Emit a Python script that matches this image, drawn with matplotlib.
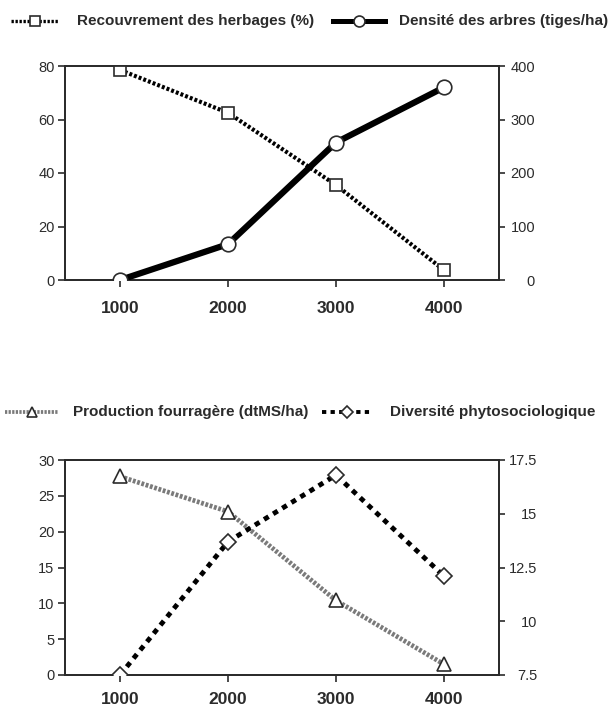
import matplotlib
matplotlib.use("Agg")
import matplotlib.pyplot as plt
from matplotlib.lines import Line2D

# altitude classes (x axis)
altitudes = [1000, 2000, 3000, 4000]
xtick_labels = ["1000", "2000", "3000", "4000"]

# top chart
recouvrement = [78.5, 62.5, 35.5, 3.7]      # % (left axis)
densite = [0, 67, 257, 360]                 # tiges/ha (right axis)

# bottom chart
production = [27.7, 22.8, 10.4, 1.5]        # dtMS/ha (left axis)
diversite = [7.5, 13.7, 16.8, 12.1]         # right axis

top_left_ticks = [0, 20, 40, 60, 80]
top_right_ticks = [0, 100, 200, 300, 400]
bot_left_ticks = [0, 5, 10, 15, 20, 25, 30]
bot_right_ticks = [7.5, 10, 12.5, 15, 17.5]
bot_right_labels = ["7.5", "10", "12.5", "15", "17.5"]

ink = "#2b2b2b"
plt.rcParams["font.family"] = ["Liberation Sans", "DejaVu Sans"]

W, H = 611, 709
fig = plt.figure(figsize=(W / 100, H / 100), dpi=100)

# line styles for each series
st_rec = dict(color="black", lw=3, ls=(0, (0.7, 0.5)), marker="s", ms=9,
              mfc="white", mec=ink, mew=1.2)
st_den = dict(color="black", lw=4.5, ls="-", marker="o", ms=10.5,
              mfc="white", mec=ink, mew=1.2)
st_pro = dict(color="#7a7a7a", lw=3.4, ls=(0, (0.6, 0.35)), marker="^", ms=10,
              mfc="white", mec=ink, mew=1.2)
st_div = dict(color="black", lw=3.5, ls=(0, (1.1, 1.1)), marker="D", ms=8,
              mfc="white", mec=ink, mew=1.2)


def style_axes(ax, ax2, lticks, rticks, rlabels, rpad, xpad):
    ax.set_xlim(490, 4510)
    ax.set_xticks(altitudes)
    ax.set_xticklabels(xtick_labels, fontweight="bold", fontsize=12.5, color=ink)
    ax.tick_params(axis="x", direction="out", length=5, width=1.2, pad=xpad, color=ink)
    ax.set_yticks(lticks)
    ax.tick_params(axis="y", direction="out", length=5, width=1.2, pad=2.5,
                   labelsize=10.5, labelcolor=ink, color=ink)
    ax2.set_yticks(rticks)
    ax2.set_yticklabels(rlabels)
    ax2.tick_params(axis="y", direction="out", length=4, width=1.2, pad=rpad,
                    labelsize=10.5, labelcolor=ink, color=ink)
    for lab in ax2.get_yticklabels():
        lab.set_horizontalalignment("right")
    for a in (ax, ax2):
        for s in a.spines.values():
            s.set_color(ink)
            s.set_linewidth(1.3)


def legend_item(x0, x1, y, style, label, tx):
    # legend key drawn in pixel positions, then its label
    st = dict(style)
    marker = st.pop("marker")
    ms = st.pop("ms") * 0.75
    mfc, mec, mew = st.pop("mfc"), st.pop("mec"), st.pop("mew")
    st["lw"] = st["lw"] * 0.8
    fy = 1 - y / H
    fig.add_artist(Line2D([x0 / W, x1 / W], [fy, fy], transform=fig.transFigure, **st))
    fig.add_artist(Line2D([(x0 + x1) / 2 / W], [fy], transform=fig.transFigure,
                          ls="none", marker=marker, ms=ms, mfc=mfc, mec=mec, mew=mew))
    fig.text(tx / W, fy, label, ha="left", va="center", fontsize=11,
             fontweight="bold", color=ink)


# ---- top chart ----
ax1 = fig.add_axes([65 / W, 1 - 280 / H, 434 / W, 214 / H])
ax1b = ax1.twinx()
ax1.plot(altitudes, recouvrement, zorder=3, **st_rec)
ax1b.plot(altitudes, densite, zorder=3, **st_den)
ax1.set_ylim(0, 80)
ax1b.set_ylim(0, 400)
style_axes(ax1, ax1b, top_left_ticks, top_right_ticks,
           [str(t) for t in top_right_ticks], 22, 10)

# ---- bottom chart ----
ax2 = fig.add_axes([65 / W, 1 - 675 / H, 434 / W, 215 / H])
ax2b = ax2.twinx()
ax2.plot(altitudes, production, zorder=3, **st_pro)
ax2b.plot(altitudes, diversite, zorder=3, **st_div)
ax2.set_ylim(0, 30)
ax2b.set_ylim(7.5, 17.5)
style_axes(ax2, ax2b, bot_left_ticks, bot_right_ticks, bot_right_labels, 23.5, 7.5)

# ---- legends ----
legend_item(11, 58, 21, st_rec, "Recouvrement des herbages (%)", 77)
legend_item(333, 385, 21, st_den, "Densité des arbres (tiges/ha)", 399)
legend_item(5, 58, 412, st_pro, "Production fourragère (dtMS/ha)", 73)
legend_item(322, 372, 412, st_div, "Diversité phytosociologique", 390)

fig.savefig("out.png", dpi=100)
